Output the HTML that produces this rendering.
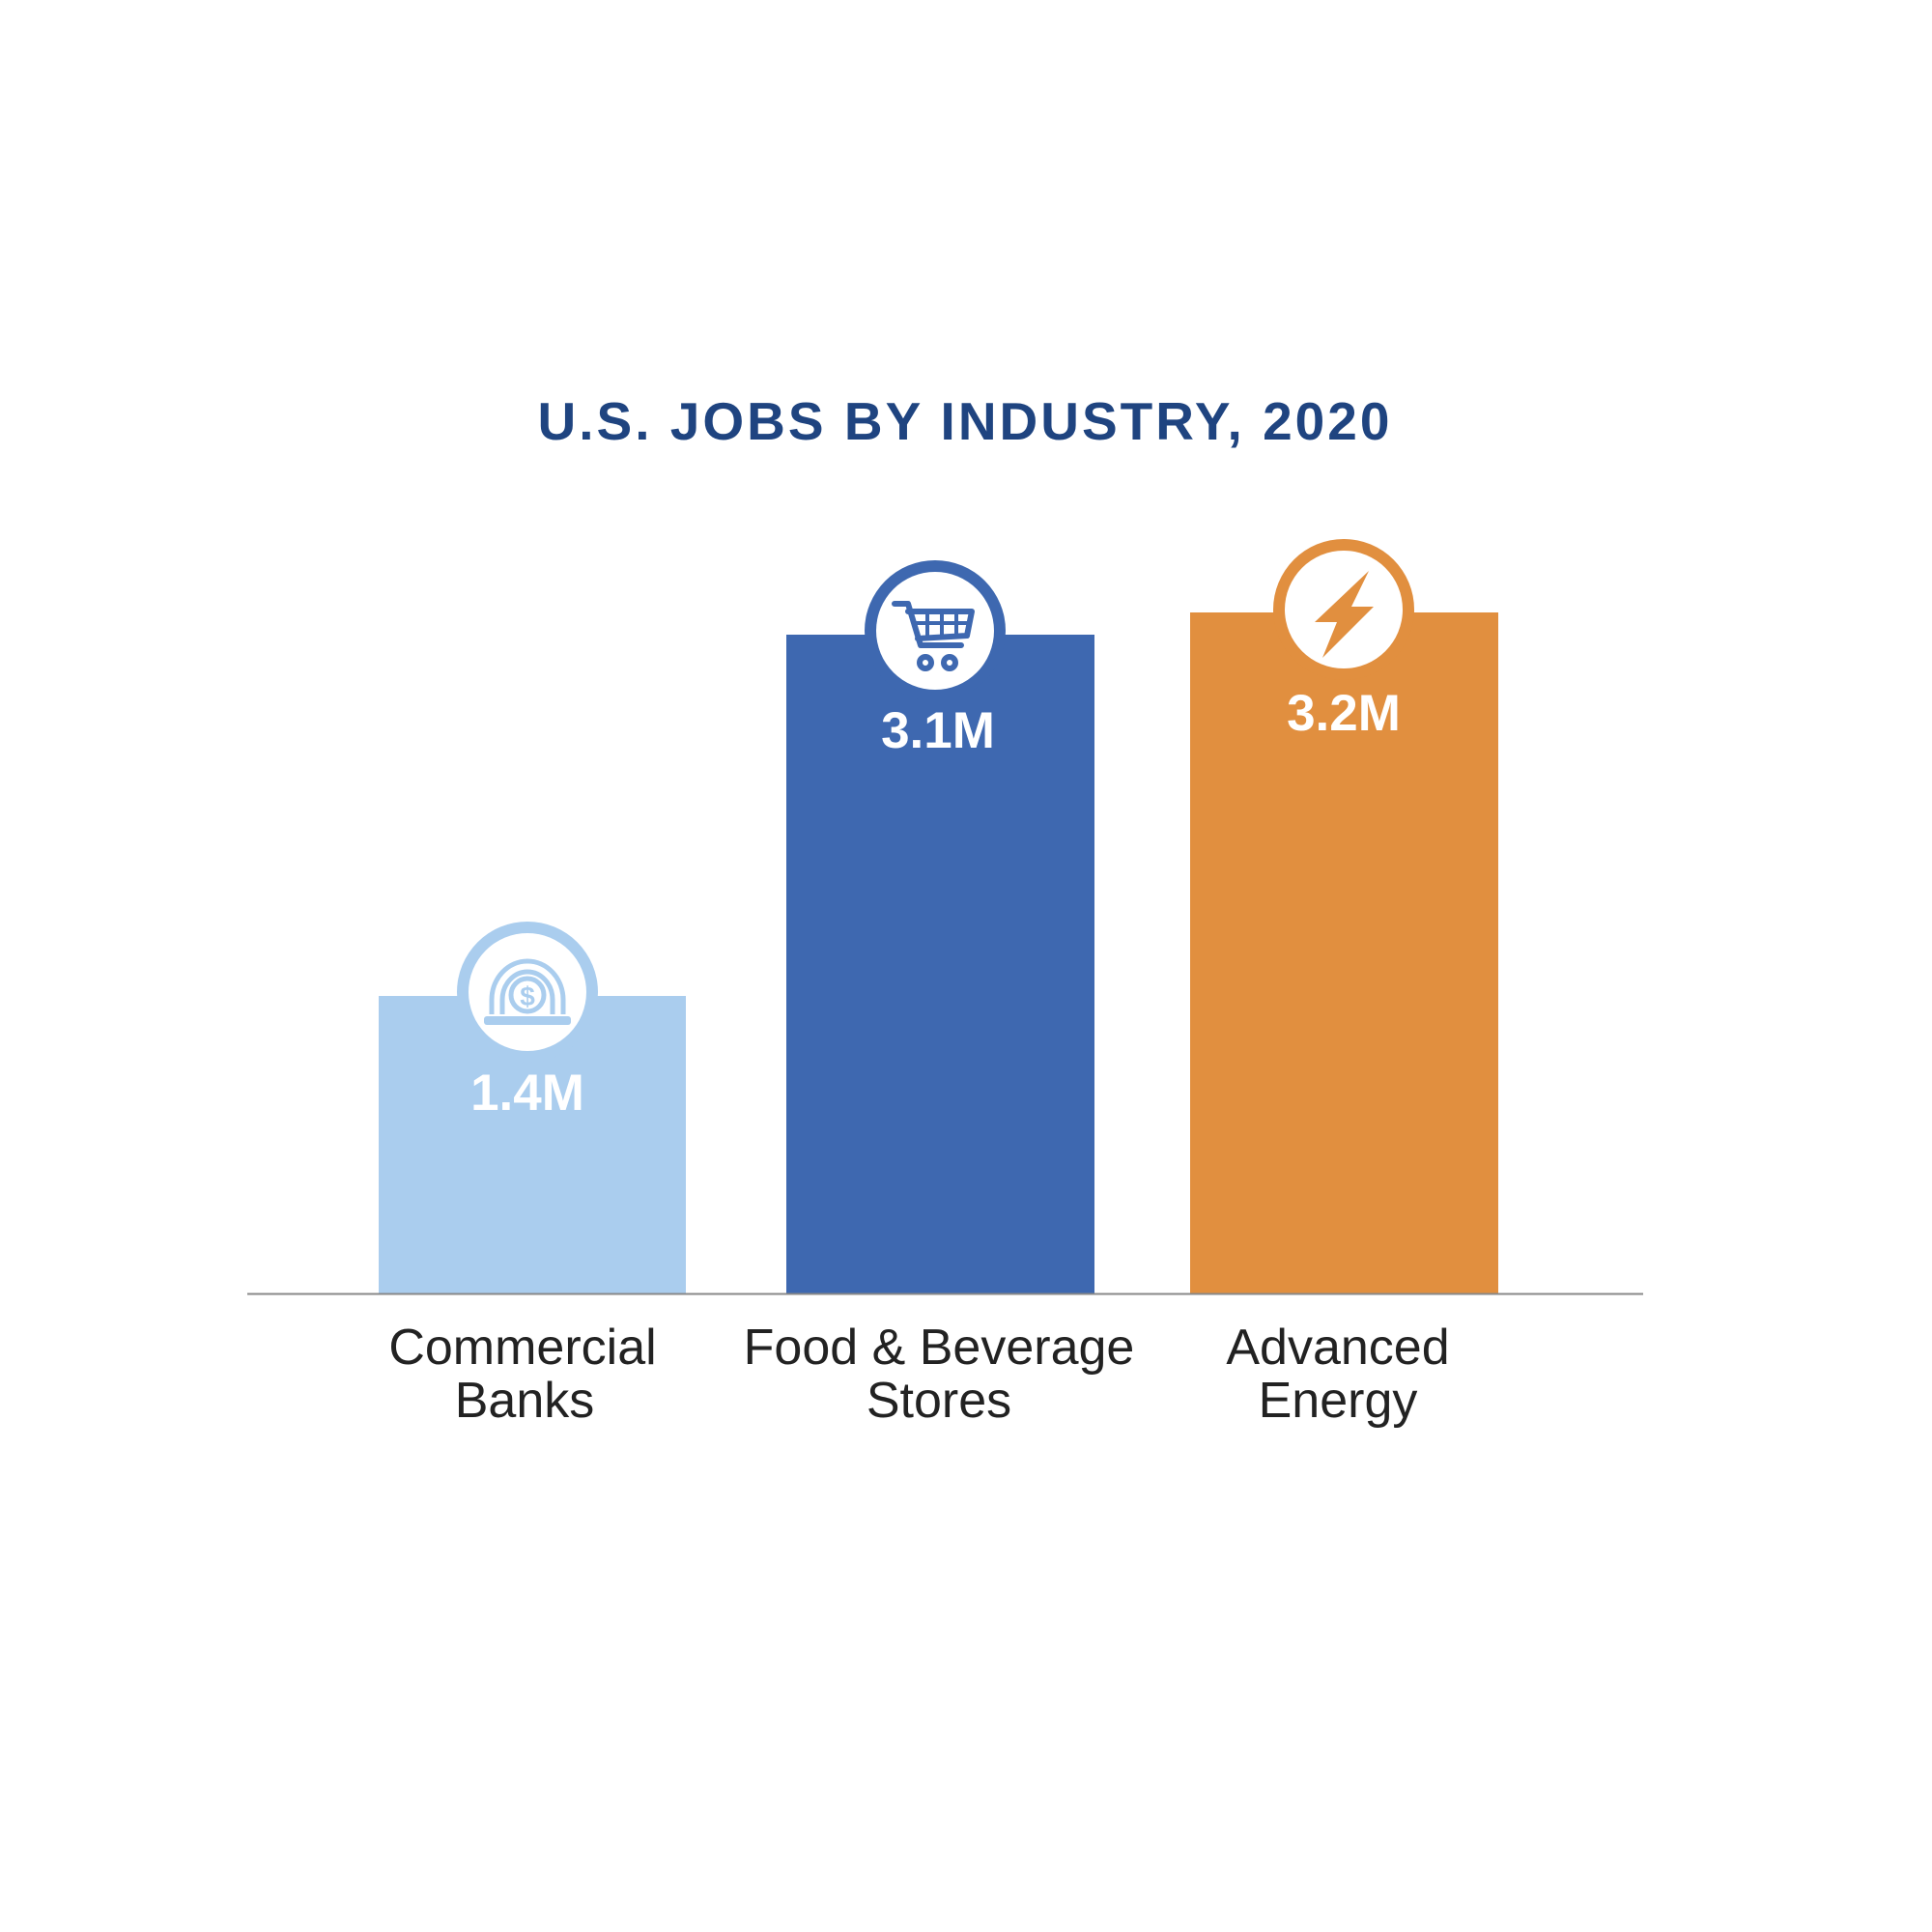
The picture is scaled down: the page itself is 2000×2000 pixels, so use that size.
<!DOCTYPE html>
<html><head><style>
body{margin:0;width:2000px;height:2000px;background:#fff;overflow:hidden}
svg{display:block}
</style></head><body>
<svg width="2000" height="2000" viewBox="0 0 2000 2000" font-family="Liberation Sans, sans-serif">
<text x="999" y="455" text-anchor="middle" font-size="55" font-weight="bold" fill="#1f4480" letter-spacing="3">U.S. JOBS BY INDUSTRY, 2020</text>
<rect x="392" y="1031" width="318" height="308" fill="#aacdee"/>
<rect x="814" y="657" width="319" height="682" fill="#3e68b0"/>
<rect x="1232" y="634" width="319" height="705" fill="#e18f3f"/>
<line x1="256" y1="1339.5" x2="1701" y2="1339.5" stroke="#888" stroke-width="2"/>
<circle cx="546" cy="1027" r="73" fill="#aacdee"/><circle cx="546" cy="1027" r="61" fill="#fff"/>
<circle cx="968" cy="653" r="73" fill="#3e68b0"/><circle cx="968" cy="653" r="61" fill="#fff"/>
<circle cx="1391" cy="631" r="73" fill="#e18f3f"/><circle cx="1391" cy="631" r="61" fill="#fff"/>
<!-- bank icon -->
<g transform="translate(-6,-10)">
<g fill="none" stroke="#aacdee" stroke-width="5">
<path d="M515 1060 L515 1045 A37 40 0 1 1 589 1045 L589 1060"/><path d="M526 1060 L526 1045 A26 29 0 1 1 578 1045 L578 1060"/><circle cx="552" cy="1040" r="17"/></g>
<rect x="507" y="1062" width="90" height="9" rx="3" fill="#aacdee"/>
<text x="552" y="1051" text-anchor="middle" font-size="28" font-weight="bold" fill="#aacdee">$</text>
</g>
<!-- cart icon -->
<g transform="translate(-10,-7)">
<g fill="none" stroke="#3e68b0" stroke-width="6" stroke-linecap="round" stroke-linejoin="round">
<path d="M936 632 L950 632 L963 675 L1005 675"/><path d="M950 640 L1016 640 L1011 665 L960 668"/>
<circle cx="968" cy="693" r="6"/><circle cx="993" cy="693" r="6"/></g>
<g stroke="#3e68b0" stroke-width="4"><line x1="955" y1="652" x2="1013" y2="652"/><line x1="970" y1="640" x2="970" y2="666"/><line x1="985" y1="640" x2="985" y2="666"/><line x1="1000" y1="640" x2="1000" y2="666"/></g>
</g>
<!-- bolt -->
<path d="M1417 591 L1361 644 L1384 644 L1369 681 L1422 628 L1399 628 Z" fill="#e18f3f"/>
<g font-weight="bold" fill="#fff" font-size="53" text-anchor="middle">
<text x="546" y="1149">1.4M</text><text x="971" y="774">3.1M</text><text x="1391" y="756">3.2M</text></g>
<g font-size="52" fill="#222" text-anchor="middle">
<text x="541" y="1412">Commercial</text><text x="543" y="1467">Banks</text>
<text x="972" y="1412">Food &amp; Beverage</text><text x="972" y="1467">Stores</text>
<text x="1385" y="1412">Advanced</text><text x="1385" y="1467">Energy</text></g>
</svg>
</body></html>
